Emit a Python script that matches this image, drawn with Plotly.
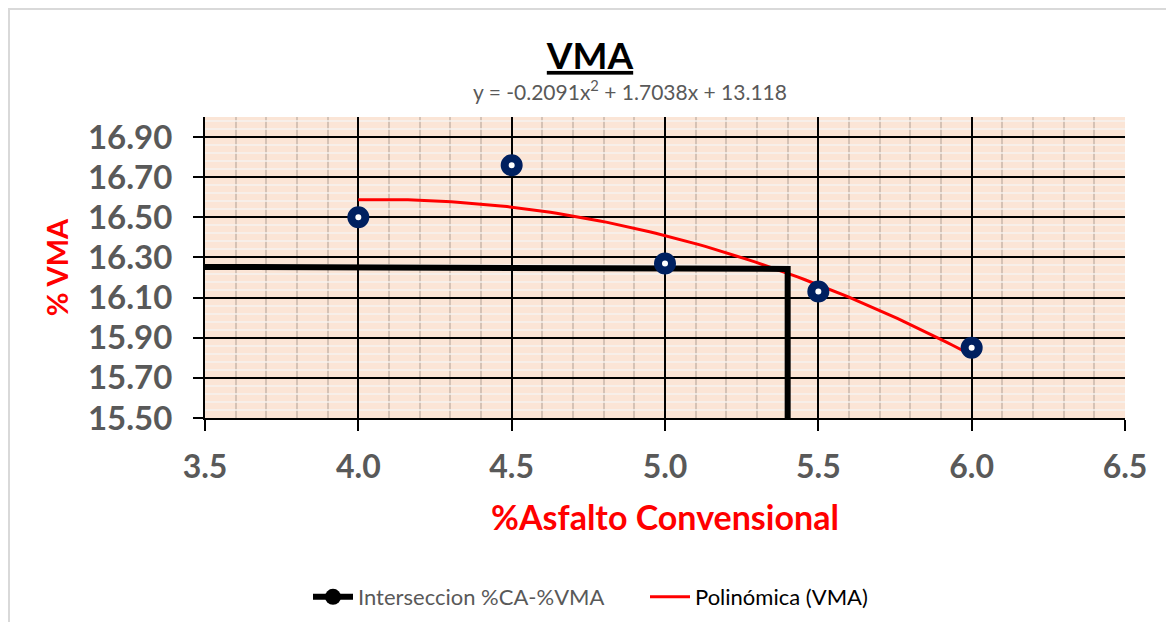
import numpy as np
import plotly.graph_objects as go

# Data
asfalto = [4.0, 4.5, 5.0, 5.5, 6.0]
vma = [16.50, 16.76, 16.27, 16.13, 15.85]
inter_x = [3.5, 5.40, 5.40]
inter_y = [16.253, 16.243, 15.50]
poly_coef = [-0.2091, 1.7038, 13.118]  # printed trendline equation
x_ticks = [3.5, 4.0, 4.5, 5.0, 5.5, 6.0, 6.5]
y_ticks = [15.5, 15.7, 15.9, 16.1, 16.3, 16.5, 16.7, 16.9]

FONT = "Lato"
GRAY = "#595959"

O = 8  # page offset of the figure
W, H = 1174 - 2 * O, 630 - 2 * O
PL, PR, PT, PB = 205, 1125, 117, 418  # plot area in page pixels
L, T = PL - O, PT - O
R = W - (PR - O)
B = H - (PB - O)
pw, ph = PR - PL, PB - PT

def px(xp):
    return (xp - PL) / pw

def py(yp):
    return (PB - yp) / ph

fig = go.Figure()

# trendline
xs = np.linspace(min(asfalto), max(asfalto), 100)
ys = np.polyval(poly_coef, xs)
fig.add_trace(go.Scatter(x=xs, y=ys, mode="lines", line=dict(color="#FF0000", width=3),
                         showlegend=False))

# intersection
fig.add_trace(go.Scatter(x=inter_x, y=inter_y, mode="lines", line=dict(color="black", width=6),
                         showlegend=False))

# data points
fig.add_trace(go.Scatter(x=asfalto, y=vma, mode="markers",
                         marker=dict(symbol="circle", size=14, color="white",
                                     line=dict(color="#002060", width=8)),
                         showlegend=False))

# legend entries
fig.add_trace(go.Scatter(x=[None], y=[None], mode="lines+markers",
                         line=dict(color="black", width=6),
                         marker=dict(color="black", size=16),
                         name="<span style='color:#595959'>Interseccion %CA-%VMA</span>"))
fig.add_trace(go.Scatter(x=[None], y=[None], mode="lines",
                         line=dict(color="#FF0000", width=3),
                         name="Polinómica (VMA)"))

fig.update_layout(
    width=W, height=H,
    margin=dict(l=L, r=R, t=T, b=B, autoexpand=False),
    paper_bgcolor="white",
    plot_bgcolor="#FBE5D6",
    font=dict(family=FONT, color=GRAY),
    title=dict(text="<b><u>VMA</u></b>", x=(590 - O) / W, xanchor="center",
               y=1 - (56 - O) / H, yanchor="middle",
               font=dict(size=37, color="black", family=FONT)),
    showlegend=True,
    legend=dict(orientation="h", xref="container", yref="container",
                x=(308 - O) / W, xanchor="left", y=1 - (597 - O) / H, yanchor="middle",
                font=dict(size=22, color="black", family=FONT),
                bgcolor="rgba(0,0,0,0)", traceorder="normal", tracegroupgap=0,
                itemwidth=40, entrywidth=282, entrywidthmode="pixels"),
    annotations=[
        dict(text="y = -0.2091x<sup>2</sup> + 1.7038x + 13.118", xref="paper", yref="paper",
             x=px(630), y=py(90), xanchor="center", yanchor="middle", showarrow=False,
             font=dict(size=21, color=GRAY, family=FONT)),
    ],
    shapes=[
        dict(type="line", xref="paper", yref="paper", x0=px(O + 1), x1=px(O + 1),
             y0=py(O), y1=py(640), line=dict(color="#D9D9D9", width=2)),
        dict(type="line", xref="paper", yref="paper", x0=px(O), x1=px(1180),
             y0=py(O + 1), y1=py(O + 1), line=dict(color="#D9D9D9", width=2)),
    ],
)

fig.update_xaxes(
    range=[3.5, 6.5], tickvals=x_ticks, ticktext=[f"{v:.1f}" for v in x_ticks],
    showgrid=True, gridcolor="black", gridwidth=1.5,
    showline=True, linecolor="black", linewidth=2,
    ticks="outside", ticklen=11, tickwidth=2, tickcolor="black",
    ticklabelstandoff=9, automargin=False,
    tickfont=dict(size=32, color=GRAY, family=FONT, weight="bold"),
    minor=dict(dtick=0.1, tick0=3.5, showgrid=True, gridcolor="#D5C2B5", gridwidth=1.5, ticks=""),
    title=dict(text="<b>%Asfalto Convensional</b>", standoff=22,
               font=dict(size=34, color="#FF0000", family=FONT)),
    zeroline=False,
)
fig.update_yaxes(
    range=[15.5, 17.0], tickvals=y_ticks, ticktext=[f"{v:.2f}" for v in y_ticks],
    showgrid=True, gridcolor="black", gridwidth=1.5,
    showline=True, linecolor="black", linewidth=2,
    ticks="outside", ticklen=10, tickwidth=2, tickcolor="black",
    ticklabelstandoff=14, automargin=False,
    tickfont=dict(size=33, color=GRAY, family=FONT, weight="bold"),
    minor=dict(dtick=0.04, tick0=15.5, showgrid=True, gridcolor="rgba(245,243,241,0.7)",
               gridwidth=1.5, ticks=""),
    title=dict(text="<b>% VMA</b>", standoff=11,
               font=dict(size=29, color="#FF0000", family=FONT)),
    zeroline=False,
)

fig.write_html("out.html")
